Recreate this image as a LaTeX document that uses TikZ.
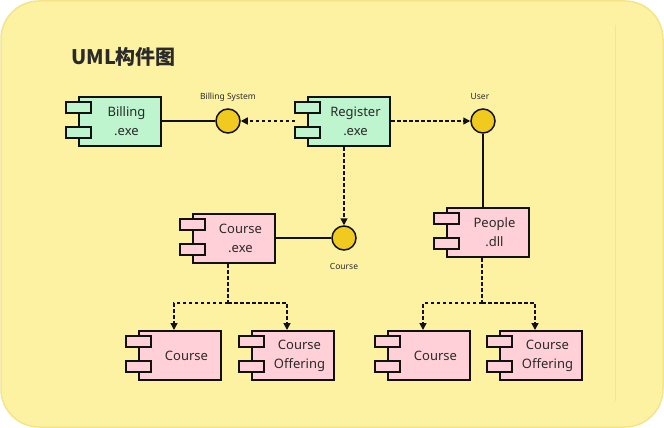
\documentclass[tikz,border=0pt]{standalone}
\usepackage{fontspec}
\setmainfont{Noto Sans}
\newfontfamily\cjkfont{Noto Sans CJK SC}
\usetikzlibrary{arrows.meta,calc}
\definecolor{bgc}{HTML}{FDF2A2}
\definecolor{bgline}{HTML}{F4E48C}
\definecolor{greenc}{HTML}{BEF4CE}
\definecolor{pinkc}{HTML}{FFD0D8}
\definecolor{goldc}{HTML}{F0CA1E}
\definecolor{linec}{HTML}{111111}
\definecolor{textc}{HTML}{2A2A2A}
\tikzset{
  body/.style={draw=linec, line width=2pt, minimum width=82pt, minimum height=49pt, inner sep=0pt},
  tabsty/.style={draw=linec, line width=1.8pt},
  comptext/.style={align=center, text=textc, font=\fontsize{13}{19}\selectfont, inner sep=0pt},
  iface/.style={circle, draw=linec, line width=1.5pt, fill=goldc, minimum size=24pt, inner sep=0pt},
  ilabel/.style={text=textc, font=\fontsize{8.5}{10}\selectfont, inner sep=0pt},
  solidcon/.style={draw=linec, line width=1.5pt},
  dep/.style={draw=linec, line width=1.5pt, dash pattern=on 3.5pt off 2.5pt, -{Triangle[length=7pt,width=7pt]}},
  depline/.style={draw=linec, line width=1.5pt, dash pattern=on 3.5pt off 2.5pt}
}
\newcommand\comp[5]{%
  \node[body, fill=#4] (#1) at (#2,#3) {};
  \draw[tabsty, fill=#4] ($(#1.north west)+(-12,6)$) rectangle ++(25,11);
  \draw[tabsty, fill=#4] ($(#1.north west)+(-12,31)$) rectangle ++(25,11);
  \node[comptext] (#1-text) at ($(#1.center)+(6.5,0)$) {#5};
}
\begin{document}
\begin{tikzpicture}[x=1pt,y=-1pt]
\useasboundingbox (0,0) rectangle (664,428);
\path[fill=bgc, draw=bgline, line width=1.5pt, rounded corners=38pt] (1,1) rectangle (663,427);
\draw[black!12, line width=0.6pt] (615,25) -- (615,401);
\node[anchor=west, text=textc, font=\cjkfont\bfseries\fontsize{20}{24}\selectfont, inner sep=0pt] (title) at (71,57) {UML构件图};

\comp{billing}{120}{121.5}{greenc}{Billing\\.exe}
\comp{register}{349}{121.5}{greenc}{Register\\.exe}
\comp{courseexe}{234}{238.5}{pinkc}{Course\\.exe}
\comp{people}{488}{232.5}{pinkc}{People\\.dll}
\comp{coursel}{180}{355.5}{pinkc}{Course}
\comp{offerl}{293}{355.5}{pinkc}{Course\\Offering}
\comp{courser}{429}{355.5}{pinkc}{Course}
\comp{offerr}{541}{355.5}{pinkc}{Course\\Offering}

\node[iface] (bs) at (228,121) {};
\node[iface] (user) at (483,121) {};
\node[iface] (cc) at (344,238) {};
\node[ilabel] (bs-l) at (228,97) {Billing System};
\node[ilabel] (user-l) at (480,97) {User};
\node[ilabel] (cc-l) at (344,266) {Course};

\draw[solidcon] (billing.east |- bs.west) -- (bs.west);
\draw[dep] ($(register.west |- bs.east)+(-12,0)$) -- (bs.east);
\draw[dep] (register.east |- user.west) -- (user.west);
\draw[dep] (cc.north |- register.south) -- (cc.north);
\draw[solidcon] (user.south) -- (user.south |- people.north);
\draw[solidcon] (courseexe.east |- cc.west) -- (cc.west);

\coordinate (j1) at ($(courseexe.south)+(-6,39)$);
\draw[depline] ($(courseexe.south)+(-6,0)$) -- (j1);
\draw[dep] (j1) -| ($(coursel.north)+(-6,0)$);
\draw[dep] (j1) -| ($(offerl.north)+(-6,0)$);
\coordinate (j2) at ($(people.south)+(-6,45)$);
\draw[depline] ($(people.south)+(-6,0)$) -- (j2);
\draw[dep] (j2) -| ($(courser.north)+(-6,0)$);
\draw[dep] (j2) -| ($(offerr.north)+(-6,0)$);
\end{tikzpicture}
\end{document}
